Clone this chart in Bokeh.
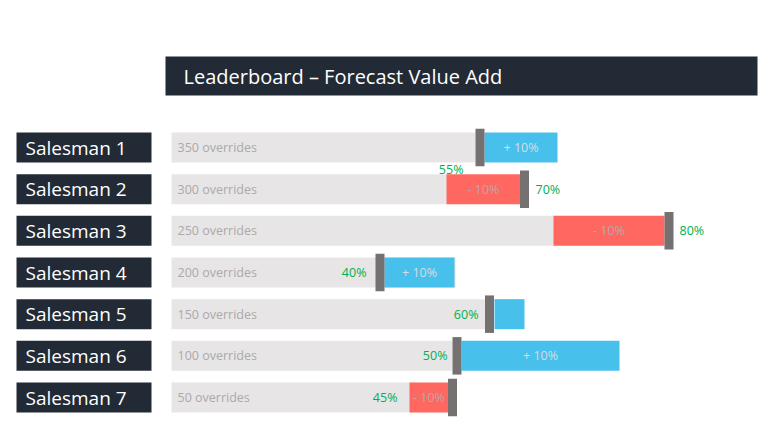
from bokeh.plotting import figure
from bokeh.models import ColumnDataSource, Range1d
from bokeh.core.properties import value
from bokeh.embed import file_html
from bokeh.resources import INLINE

# ---- data (x in chart units: 0 = start of the grey track) ----
salesmen = ["Salesman 1", "Salesman 2", "Salesman 3", "Salesman 4",
            "Salesman 5", "Salesman 6", "Salesman 7"]
overrides = [350, 300, 250, 200, 150, 100, 50]
track_end = [304, 276, 383, 284, 314, 281, 242]
marker_pos = [308.5, 353, 497.5, 208.5, 318, 285.5, 281]
delta_start = [313, 275, 382, 213, 323, 290, 238]
delta_end = [386, 349, 493, 283, 353, 448, 277]
delta_sign = ["+", "-", "-", "+", "+", "+", "-"]
delta_text = ["+ 10%", "- 10%", "- 10%", "+ 10%", "", "+ 10%", "- 10%"]
accuracy = ["55%", "70%", "80%", "40%", "60%", "50%", "45%"]
acc_x = [292, 364, 508, 195, 307, 276, 226]
acc_side = ["left", "right", "right", "left", "left", "left", "left"]
acc_dy = [0.53, 0, 0, 0, 0, 0, 0]
title = "Leaderboard \u2013 Forecast Value Add"

DARK = "#222a35"
BLUE = "#48c0ec"
RED = "#ff6861"
TRACK = "#e7e5e6"
MARK = "#767171"
GREEN = "#00b050"
FONT = "Open Sans"

rows = list(range(1, len(salesmen) + 1))

p = figure(width=760, height=443, output_backend="svg", toolbar_location=None,
           x_range=Range1d(-171, 589), y_range=Range1d(8.104, -2.528),
           min_border=0, outline_line_color=None, background_fill_color="white")
p.axis.visible = False
p.grid.visible = False

# title bar
p.quad(left=[-6], right=[586], top=[-0.716 - 0.468], bottom=[-0.716 + 0.468],
       fill_color=DARK, line_color=None)
p.text(x=[12], y=[-0.716], text=[title], text_color="white",
       text_font=value(FONT), text_font_size="20px", text_baseline="middle")

src = ColumnDataSource(dict(
    row=rows, name=salesmen, track_end=track_end,
    ov=[f"{o} overrides" for o in overrides],
    zero=[0] * len(rows), lab_l=[-155] * len(rows), lab_r=[-20] * len(rows),
    lab_x=[-146] * len(rows), ov_x=[6] * len(rows),
    top=[r - 0.36 for r in rows], bottom=[r + 0.36 for r in rows],
))

# name boxes
p.quad(left="lab_l", right="lab_r", top="top", bottom="bottom", source=src,
       fill_color=DARK, line_color=None)
p.text(x="lab_x", y="row", text="name", source=src, text_color="white",
       text_font=value(FONT), text_font_size="19px", text_baseline="middle")

# grey tracks
p.quad(left="zero", right="track_end", top="top", bottom="bottom", source=src,
       fill_color=TRACK, line_color=None)
p.text(x="ov_x", y="row", text="ov", source=src, text_color="#aaaaaa",
       text_font=value(FONT), text_font_size="12.5px", text_baseline="middle")

# delta bars
dsrc = ColumnDataSource(dict(
    row=rows, left=delta_start, right=delta_end,
    top=[r - 0.36 for r in rows], bottom=[r + 0.36 for r in rows],
    color=[BLUE if s == "+" else RED for s in delta_sign],
    mid=[(a + b) / 2 for a, b in zip(delta_start, delta_end)],
    txt=delta_text,
    tcol=["#d6dde4" if s == "+" else "#b9a7a7" for s in delta_sign],
))
p.quad(left="left", right="right", top="top", bottom="bottom", source=dsrc,
       fill_color="color", line_color=None)
p.text(x="mid", y="row", text="txt", source=dsrc, text_color="tcol",
       text_font=value(FONT), text_font_size="12.5px", text_baseline="middle",
       text_align="center")

# markers
p.rect(x=marker_pos, y=rows, width=9, height=0.9, fill_color=MARK, line_color=None)

# accuracy labels
for side, align in (("left", "right"), ("right", "left")):
    idx = [i for i, s in enumerate(acc_side) if s == side]
    asrc = ColumnDataSource(dict(
        x=[acc_x[i] for i in idx],
        y=[rows[i] + acc_dy[i] for i in idx],
        t=[accuracy[i] for i in idx],
    ))
    p.text(x="x", y="y", text="t", source=asrc, text_color=GREEN,
           text_font=value(FONT), text_font_size="12.5px",
           text_baseline="middle", text_align=align)

open("out.html", "w").write(file_html(p, INLINE))
